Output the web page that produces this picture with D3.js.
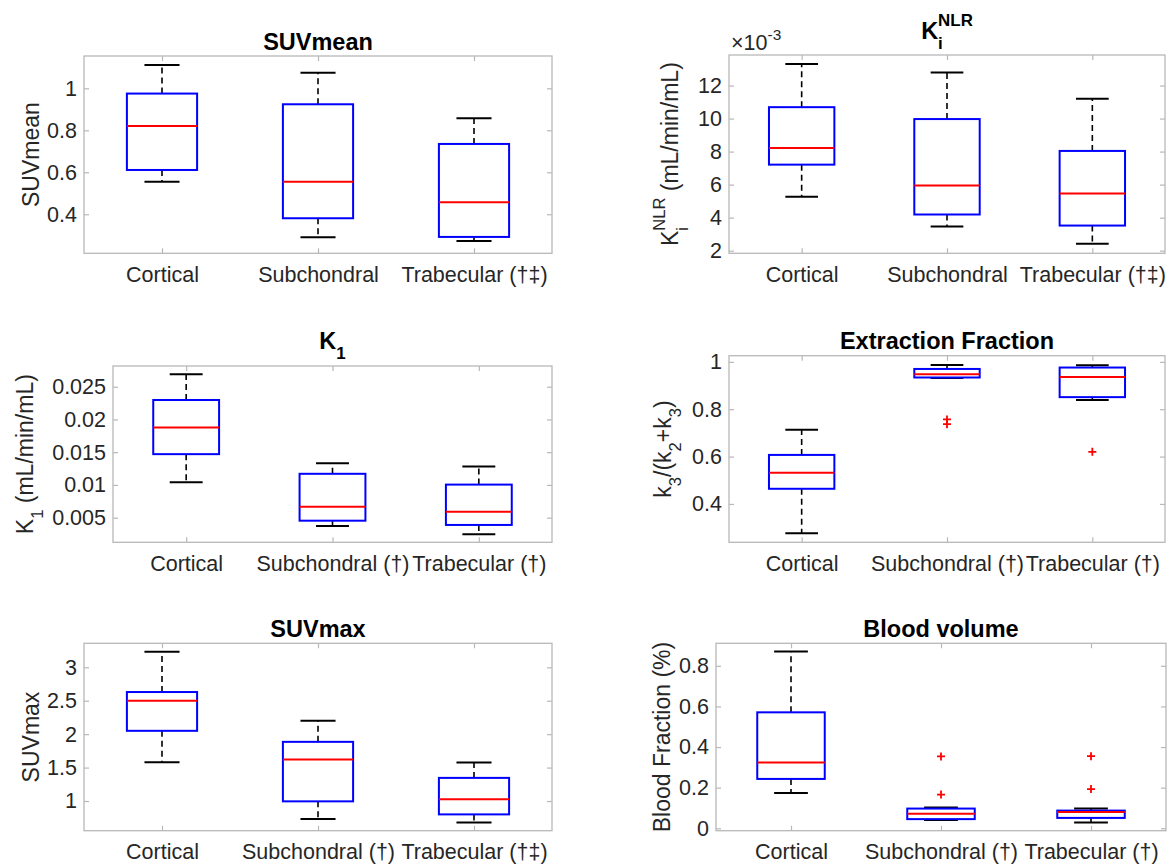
<!DOCTYPE html>
<html>
<head>
<meta charset="utf-8">
<script src="https://cdn.jsdelivr.net/npm/d3@7"></script>
<style>
  body { margin: 0; background: #fff; }
  text { font-family: "Liberation Sans", Helvetica, Arial, sans-serif; }
</style>
</head>
<body>
<div id="chart"></div>
<script>
// group names (daggers = significance marks)
var catsA = ["Cortical", "Subchondral", "Trabecular (†‡)"];
var catsB = ["Cortical", "Subchondral (†)", "Trabecular (†)"];
var catsC = ["Cortical", "Subchondral (†)", "Trabecular (†‡)"];

// box stats per group: [lower whisker, q1, median, q3, upper whisker]
var suvMean  = [[0.555, 0.611, 0.82, 0.975, 1.111], [0.29, 0.381, 0.555, 0.924, 1.074], [0.273, 0.292, 0.457, 0.735, 0.857]];
var kiNlr    = [[5.26, 7.21, 8.22, 10.69, 13.31], [3.46, 4.19, 5.94, 9.97, 12.79], [2.42, 3.52, 5.46, 8.04, 11.2]]; // x10^-3
var k1       = [[0.0104, 0.0147, 0.01878, 0.02297, 0.0269], [0.00373, 0.00454, 0.00668, 0.0117, 0.0133], [0.00247, 0.00389, 0.00592, 0.01005, 0.0128]];
var extFrac  = [[0.276, 0.464, 0.532, 0.607, 0.713], [0.932, 0.934, 0.948, 0.970, 0.987], [0.839, 0.851, 0.936, 0.976, 0.986]];
var suvMax   = [[1.58, 2.05, 2.5, 2.63, 3.233], [0.73, 0.995, 1.62, 1.885, 2.20], [0.68, 0.80, 1.025, 1.346, 1.575]];
var bloodVol = [[0.174, 0.243, 0.3245, 0.571, 0.870], [0.041, 0.045, 0.071, 0.097, 0.102], [0.028, 0.051, 0.080, 0.087, 0.097]];

// outliers per group
var extFracOut  = [[], [0.757, 0.737], [0.62]];
var bloodVolOut = [[], [0.354, 0.166], [0.355, 0.193]];

// y limits
var suvMeanLim = [0.214, 1.154];
var kiLim      = [1.84, 13.85];
var k1Lim      = [0.00124, 0.02816];
var efLim      = [0.238, 1.026];
var suvMaxLim  = [0.556, 3.359];
var bloodLim   = [-0.012, 0.911];

// y tick values
var suvMeanTicks = [0.4, 0.6, 0.8, 1];
var kiTicks      = [2, 4, 6, 8, 10, 12];
var k1Ticks      = [0.005, 0.01, 0.015, 0.02, 0.025];
var efTicks      = [0.4, 0.6, 0.8, 1];
var suvMaxTicks  = [1, 1.5, 2, 2.5, 3];
var bloodTicks   = [0, 0.2, 0.4, 0.6, 0.8];

var tickFs = 21.5, labFs = 23, titleFs = 23.5;
var axisGrey = "#b8b8b8", txtCol = "#262626";

// layout: [left, right, top, bottom], title baseline, ylabel baseline x
var panels = [
  {stats: suvMean, out: null, cats: catsA, lim: suvMeanLim, ticks: suvMeanTicks,
   title: [["SUVmean"]], ylab: [["SUVmean"]], pos: [84, 552, 56, 253.3], titleY: 50, ylabX: 39},
  {stats: kiNlr, out: null, cats: catsA, lim: kiLim, ticks: kiTicks, expo: true,
   title: [["K"], ["i", "sub"], ["NLR", "sup"]],
   ylab: [["K"], ["i", "sub"], ["NLR", "sup"], [" (mL/min/mL)"]], pos: [729, 1165, 55, 253.3], titleY: 39, ylabX: 678},
  {stats: k1, out: null, cats: catsB, lim: k1Lim, ticks: k1Ticks,
   title: [["K"], ["1", "sub"]], ylab: [["K"], ["1", "sub"], [" (mL/min/mL)"]], pos: [113, 552, 366, 542.3], titleY: 349, ylabX: 33},
  {stats: extFrac, out: extFracOut, cats: catsB, lim: efLim, ticks: efTicks,
   title: [["Extraction Fraction"]],
   ylab: [["k"], ["3", "sub"], ["/(k"], ["2", "sub"], ["+k"], ["3", "sub"], [")"]], pos: [729, 1165, 355.7, 542.3], titleY: 349, ylabX: 671},
  {stats: suvMax, out: null, cats: catsC, lim: suvMaxLim, ticks: suvMaxTicks,
   title: [["SUVmax"]], ylab: [["SUVmax"]], pos: [84, 552, 643.3, 830.7], titleY: 637, ylabX: 38.5},
  {stats: bloodVol, out: bloodVolOut, cats: catsB, lim: bloodLim, ticks: bloodTicks,
   title: [["Blood volume"]], ylab: [["Blood Fraction (%)"]], pos: [716, 1166, 643.3, 830.7], titleY: 637, ylabX: 670}
];

var svg = d3.select("#chart").append("svg")
    .attr("width", 1173)
    .attr("height", 865);

// text with TeX-like sub/superscripts (a sup right after a sub is stacked over it)
function richText(sel, segs, size) {
  var shift = 0, prevW = 0, prevSub = false;
  segs.forEach(function(s) {
    var kind = s[1] || "";
    var fs = kind ? size * 0.72 : size;
    var target = kind == "sub" ? size * 0.42 : (kind == "sup" ? -size * 0.55 : 0);
    var ts = sel.append("tspan")
        .attr("font-size", fs)
        .attr("dy", target - shift)
        .text(s[0]);
    if (kind == "sup" && prevSub) ts.attr("dx", -prevW);
    shift = target;
    prevW = ts.node().getComputedTextLength();
    prevSub = kind == "sub";
  });
}

panels.forEach(function(p) {
  var x0 = p.pos[0], x1 = p.pos[1], y0 = p.pos[2], y1 = p.pos[3];
  var x = d3.scaleLinear().domain([0.5, 3.5]).range([x0, x1]);
  var y = d3.scaleLinear().domain(p.lim).range([y1, y0]);
  var g = svg.append("g");

  // axes (ticks pointing inwards, box on)
  var axL = g.append("g").attr("transform", "translate(" + x0 + ",0)")
      .call(d3.axisLeft(y).tickValues(p.ticks).tickSize(-5).tickPadding(7).tickFormat(function(d) { return String(d); }));
  var axR = g.append("g").attr("transform", "translate(" + x1 + ",0)")
      .call(d3.axisRight(y).tickValues(p.ticks).tickSize(-5).tickFormat(""));
  var axB = g.append("g").attr("transform", "translate(0," + y1 + ")")
      .call(d3.axisBottom(x).tickValues([1, 2, 3]).tickSize(-5).tickPadding(13).tickFormat(function(d) { return p.cats[d - 1]; }));
  var axT = g.append("g").attr("transform", "translate(0," + y0 + ")")
      .call(d3.axisTop(x).tickValues([1, 2, 3]).tickSize(-5).tickFormat(""));
  [axL, axR, axB, axT].forEach(function(a) {
    a.select(".domain").remove();
    a.attr("font-size", null).attr("font-family", null);
    a.selectAll("line").attr("stroke", axisGrey).attr("stroke-width", 1.2);
    a.selectAll("text").attr("fill", txtCol).style("font-size", tickFs + "px");
  });
  g.append("rect")
      .attr("x", x0).attr("y", y0)
      .attr("width", x1 - x0).attr("height", y1 - y0)
      .attr("fill", "none").attr("stroke", axisGrey).attr("stroke-width", 1.3);

  // boxes
  var bw = 0.45, cw = 0.225;
  var grp = g.selectAll(".bx").data(p.stats).enter().append("g").attr("class", "bx");
  grp.append("line") // upper whisker
      .attr("x1", function(d, i) { return x(i + 1); }).attr("x2", function(d, i) { return x(i + 1); })
      .attr("y1", function(d) { return y(d[3]); }).attr("y2", function(d) { return y(d[4]); })
      .attr("stroke", "#000").attr("stroke-width", 1.6).attr("stroke-dasharray", "6,4");
  grp.append("line") // lower whisker
      .attr("x1", function(d, i) { return x(i + 1); }).attr("x2", function(d, i) { return x(i + 1); })
      .attr("y1", function(d) { return y(d[1]); }).attr("y2", function(d) { return y(d[0]); })
      .attr("stroke", "#000").attr("stroke-width", 1.6).attr("stroke-dasharray", "6,4");
  [0, 4].forEach(function(k) {
    grp.append("line") // caps
        .attr("x1", function(d, i) { return x(i + 1 - cw / 2); }).attr("x2", function(d, i) { return x(i + 1 + cw / 2); })
        .attr("y1", function(d) { return y(d[k]); }).attr("y2", function(d) { return y(d[k]); })
        .attr("stroke", "#000").attr("stroke-width", 2);
  });
  grp.append("rect")
      .attr("x", function(d, i) { return x(i + 1 - bw / 2); })
      .attr("y", function(d) { return y(d[3]); })
      .attr("width", x(1 + bw / 2) - x(1 - bw / 2))
      .attr("height", function(d) { return y(d[1]) - y(d[3]); })
      .attr("fill", "none").attr("stroke", "#0000ff").attr("stroke-width", 2);
  grp.append("line") // median
      .attr("x1", function(d, i) { return x(i + 1 - bw / 2); }).attr("x2", function(d, i) { return x(i + 1 + bw / 2); })
      .attr("y1", function(d) { return y(d[2]); }).attr("y2", function(d) { return y(d[2]); })
      .attr("stroke", "#ff0000").attr("stroke-width", 2);

  if (p.out) {
    p.out.forEach(function(vals, i) {
      vals.forEach(function(v) {
        g.append("path")
            .attr("d", "M-4,0H4M0,-4V4")
            .attr("transform", "translate(" + x(i + 1) + "," + y(v) + ")")
            .attr("stroke", "#ff0000").attr("stroke-width", 1.8).attr("fill", "none");
      });
    });
  }

  // title
  var t = g.append("text")
      .attr("x", (x0 + x1) / 2).attr("y", p.titleY)
      .attr("text-anchor", "middle").attr("font-weight", "bold")
      .attr("fill", "#000");
  richText(t, p.title, titleFs);

  // y label
  var yl = g.append("text")
      .attr("transform", "translate(" + p.ylabX + "," + ((y0 + y1) / 2) + ") rotate(-90)")
      .attr("text-anchor", "middle").attr("fill", txtCol);
  richText(yl, p.ylab, labFs);

  // exponent label
  if (p.expo) {
    var ex = g.append("text").attr("x", x0 + 2).attr("y", 50).attr("fill", txtCol).style("font-size", tickFs + "px");
    ex.append("tspan").text("×10");
    ex.append("tspan").attr("dy", -10).style("font-size", (tickFs * 0.72) + "px").text("-3");
  }
});
</script>
</body>
</html>
